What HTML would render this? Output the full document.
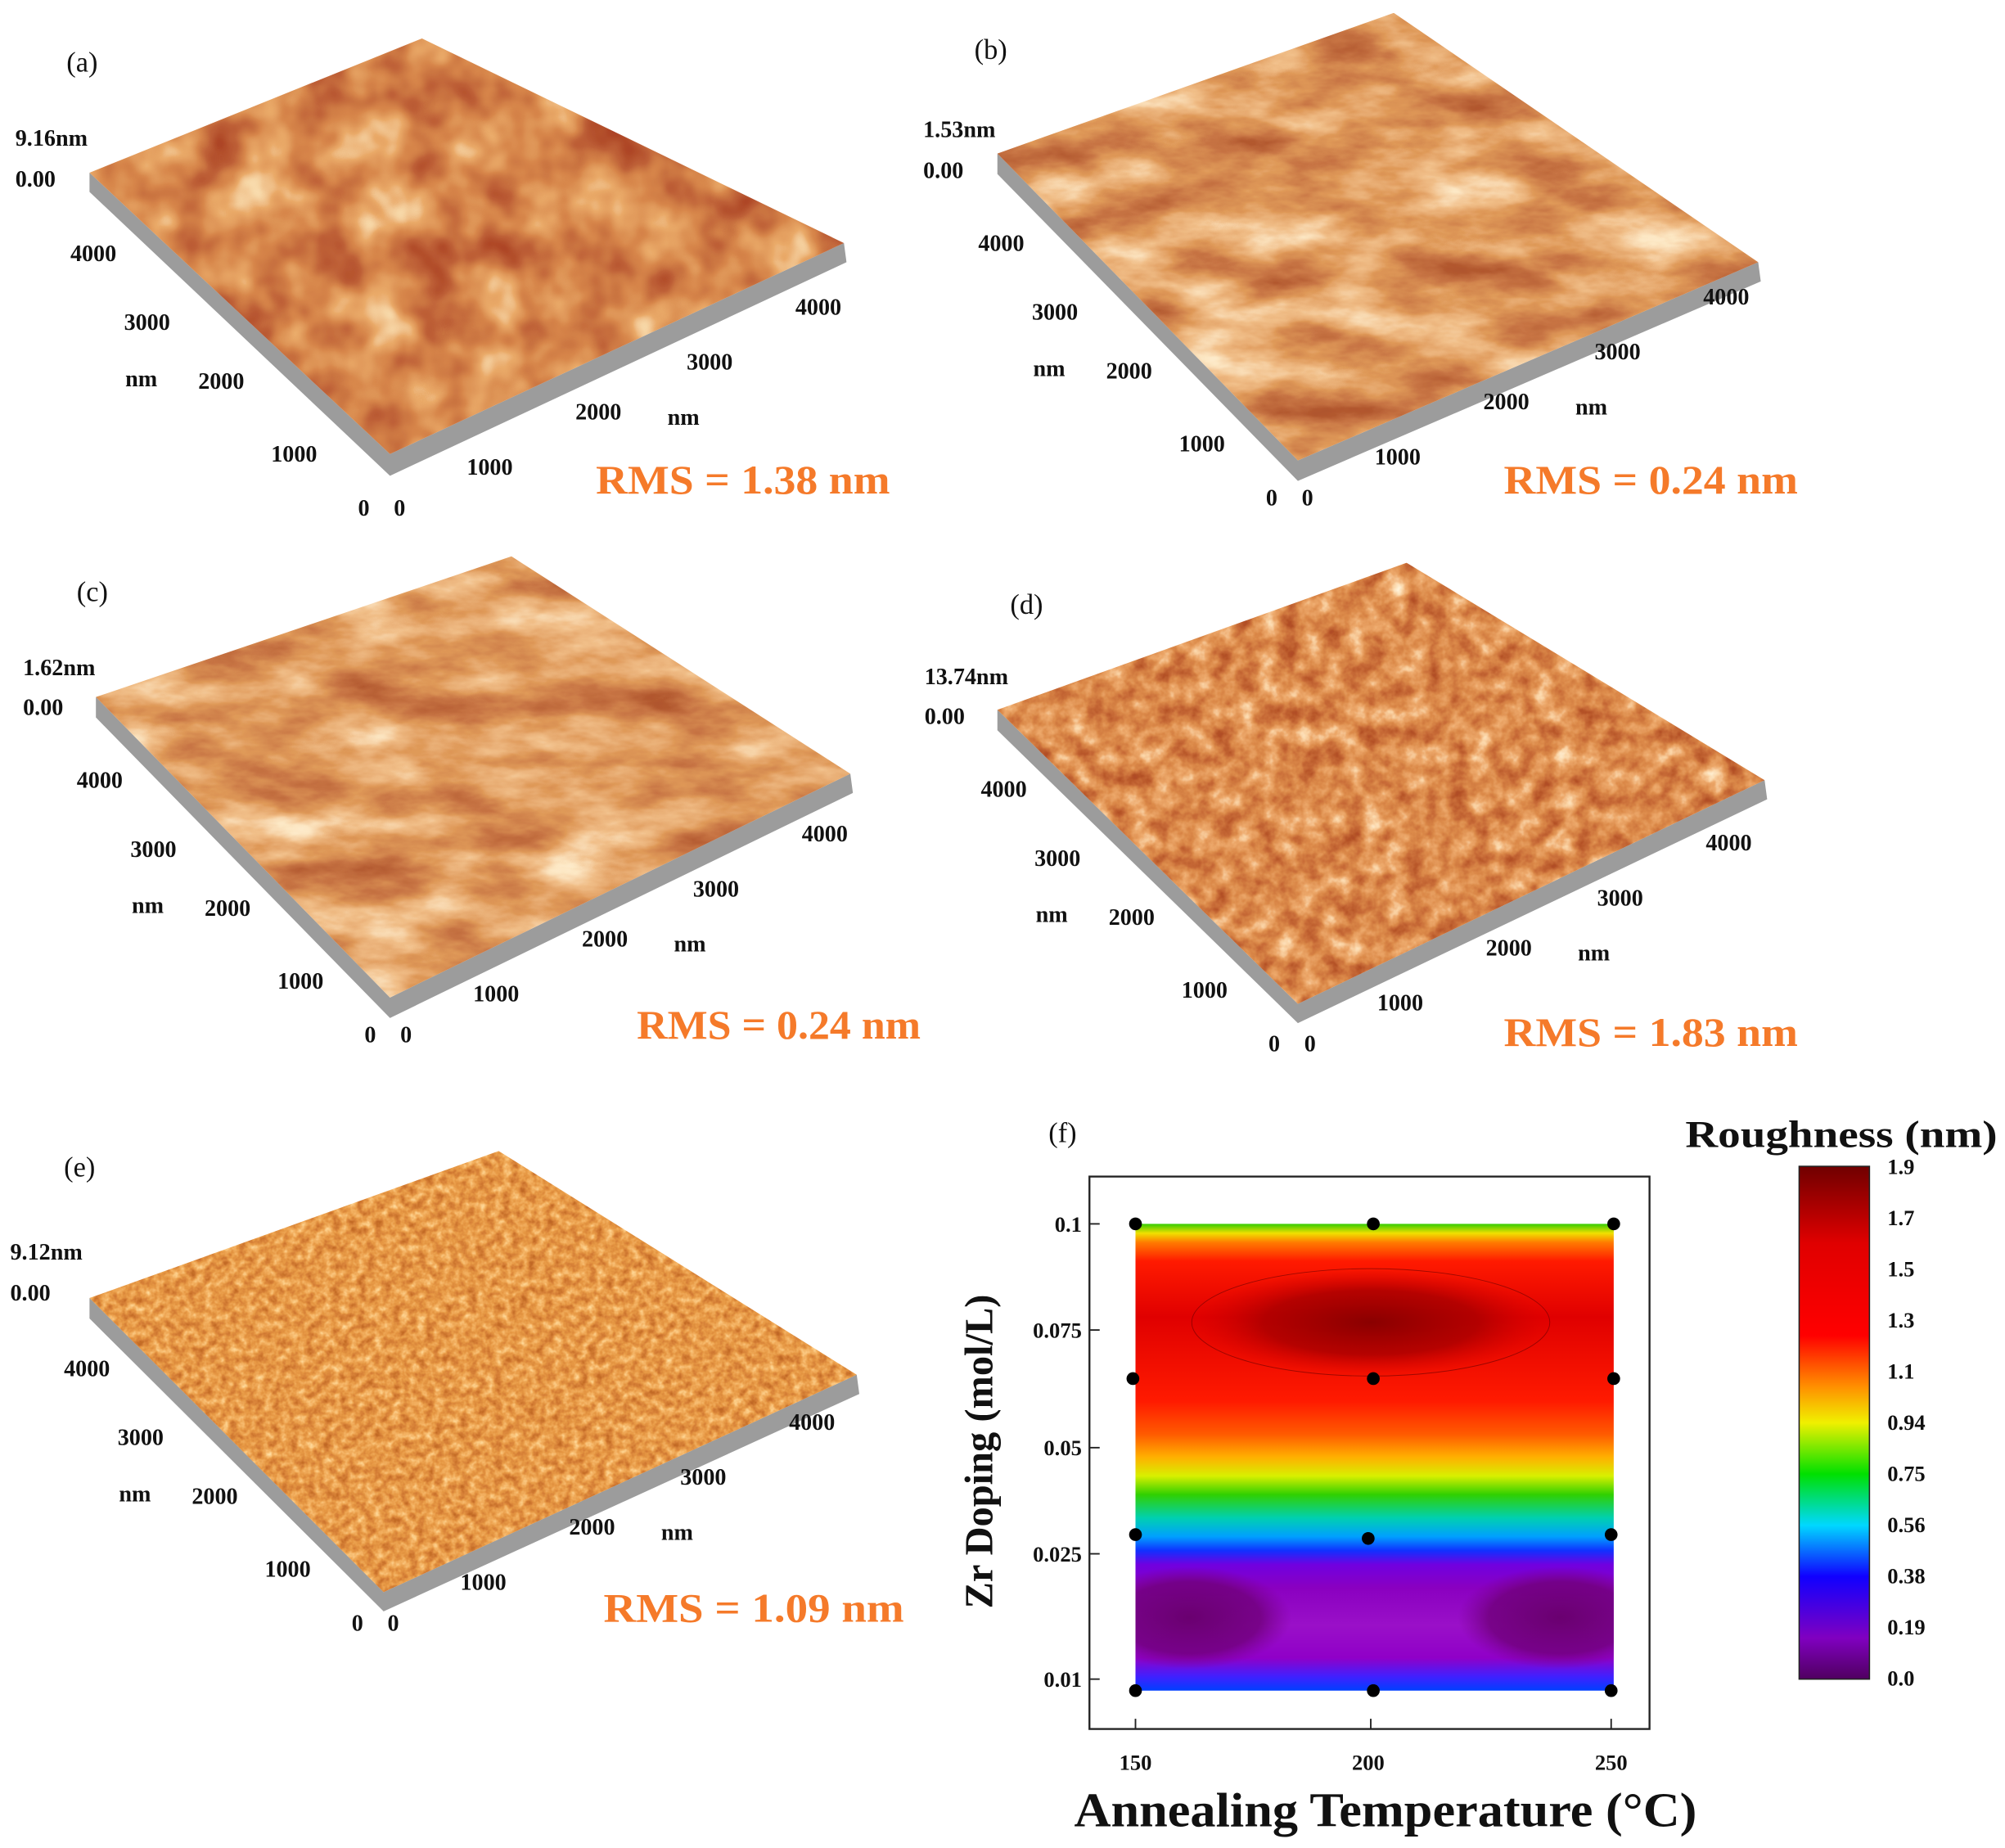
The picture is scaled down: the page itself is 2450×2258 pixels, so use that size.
<!DOCTYPE html>
<html><head><meta charset="utf-8"><style>html,body{margin:0;padding:0;background:#fff}svg{display:block}</style></head>
<body>
<svg width="2450" height="2258" viewBox="0 0 1568 1445" xmlns="http://www.w3.org/2000/svg" font-family="'Liberation Serif',serif" font-weight="bold">
<defs>
<filter id="fa" x="0" y="0" width="1" height="1"><feTurbulence type="fractalNoise" baseFrequency="0.022" numOctaves="3" seed="3"/><feColorMatrix type="matrix" values="1 0 0 0 0 1 0 0 0 0 1 0 0 0 0 0 0 0 0 1"/><feComponentTransfer><feFuncR type="table" tableValues="0.38 0.42 0.52 0.68 0.82 0.96 1"/><feFuncG type="table" tableValues="0.05 0.06 0.12 0.24 0.4 0.75 0.95"/><feFuncB type="table" tableValues="0.02 0.02 0.04 0.07 0.14 0.45 0.8"/><feFuncA type="table" tableValues="1 1"/></feComponentTransfer></filter>
<filter id="fb" x="0" y="0" width="1" height="1"><feTurbulence type="fractalNoise" baseFrequency="0.012 0.03" numOctaves="5" seed="7"/><feColorMatrix type="matrix" values="1 0 0 0 0 1 0 0 0 0 1 0 0 0 0 0 0 0 0 1"/><feComponentTransfer><feFuncR type="table" tableValues="0.4 0.45 0.58 0.74 0.88 0.98 1"/><feFuncG type="table" tableValues="0.08 0.1 0.18 0.32 0.52 0.8 0.92"/><feFuncB type="table" tableValues="0.03 0.03 0.06 0.1 0.25 0.55 0.75"/><feFuncA type="table" tableValues="1 1"/></feComponentTransfer></filter>
<filter id="fd" x="0" y="0" width="1" height="1"><feTurbulence type="fractalNoise" baseFrequency="0.06" numOctaves="4" seed="11"/><feColorMatrix type="matrix" values="1 0 0 0 0 1 0 0 0 0 1 0 0 0 0 0 0 0 0 1"/><feComponentTransfer><feFuncR type="table" tableValues="0.4 0.45 0.58 0.72 0.85 0.97 1"/><feFuncG type="table" tableValues="0.06 0.08 0.15 0.26 0.4 0.68 0.9"/><feFuncB type="table" tableValues="0.02 0.02 0.04 0.07 0.15 0.4 0.7"/><feFuncA type="table" tableValues="1 1"/></feComponentTransfer></filter>
<filter id="fe" x="0" y="0" width="1" height="1"><feTurbulence type="fractalNoise" baseFrequency="0.15" numOctaves="3" seed="5"/><feColorMatrix type="matrix" values="1 0 0 0 0 1 0 0 0 0 1 0 0 0 0 0 0 0 0 1"/><feComponentTransfer><feFuncR type="table" tableValues="0.5 0.55 0.68 0.8 0.9 0.98 1"/><feFuncG type="table" tableValues="0.12 0.15 0.22 0.32 0.44 0.62 0.8"/><feFuncB type="table" tableValues="0.02 0.02 0.04 0.06 0.12 0.25 0.45"/><feFuncA type="table" tableValues="1 1"/></feComponentTransfer></filter>
<clipPath id="ca"><polygon points="70,135 330,30 660,190 305,355"/></clipPath>
<clipPath id="cb"><polygon points="780,120 1090,10 1375,205 1015,360"/></clipPath>
<clipPath id="cc"><polygon points="75,545 400,435 665,605 305,780"/></clipPath>
<clipPath id="cd"><polygon points="780,555 1100,440 1380,610 1015,785"/></clipPath>
<clipPath id="ce"><polygon points="70,1015 390,900 670,1075 300,1245"/></clipPath>
<clipPath id="cf"><rect x="888" y="957" width="374" height="365"/></clipPath>
<linearGradient id="cont" x1="0" y1="957" x2="0" y2="1322" gradientUnits="userSpaceOnUse">
<stop offset="0" stop-color="#33cc00"/><stop offset="0.02" stop-color="#f0e000"/><stop offset="0.04" stop-color="#ff7a00"/><stop offset="0.08" stop-color="#ff1a00"/><stop offset="0.2" stop-color="#e00000"/><stop offset="0.38" stop-color="#ff1a00"/><stop offset="0.45" stop-color="#ff5a00"/><stop offset="0.5" stop-color="#ffb000"/><stop offset="0.54" stop-color="#d8f000"/><stop offset="0.58" stop-color="#30d000"/><stop offset="0.63" stop-color="#00d0b0"/><stop offset="0.67" stop-color="#00a0ff"/><stop offset="0.7" stop-color="#1030ff"/><stop offset="0.73" stop-color="#7000e0"/><stop offset="0.78" stop-color="#8a00c0"/><stop offset="0.86" stop-color="#9a10c8"/><stop offset="0.93" stop-color="#9000c8"/><stop offset="0.97" stop-color="#4020ff"/><stop offset="1" stop-color="#0040ff"/></linearGradient>
<radialGradient id="dr" cx="0.5" cy="0.5" r="0.5"><stop offset="0" stop-color="#8a0000"/><stop offset="0.6" stop-color="#a80000" stop-opacity="0.8"/><stop offset="1" stop-color="#d00000" stop-opacity="0"/></radialGradient>
<radialGradient id="dp" cx="0.5" cy="0.5" r="0.5"><stop offset="0" stop-color="#6a0070"/><stop offset="0.7" stop-color="#70007a" stop-opacity="0.8"/><stop offset="1" stop-color="#7a0090" stop-opacity="0"/></radialGradient>
<linearGradient id="cbar" x1="0" y1="1" x2="0" y2="0"><stop offset="0" stop-color="#500060"/><stop offset="0.08" stop-color="#8000c0"/><stop offset="0.2" stop-color="#1000ff"/><stop offset="0.3" stop-color="#00d8ff"/><stop offset="0.4" stop-color="#00e000"/><stop offset="0.5" stop-color="#f0f000"/><stop offset="0.57" stop-color="#ff9000"/><stop offset="0.67" stop-color="#ff0000"/><stop offset="0.85" stop-color="#e00000"/><stop offset="1" stop-color="#700000"/></linearGradient>
</defs>

<g fill="#9c9c9c">
<polygon points="70,135 305,355 660,190 662,205 305,372 70,150"/>
<polygon points="780,120 1015,360 1375,205 1377,220 1015,376 780,136"/>
<polygon points="75,545 305,780 665,605 667,620 305,796 75,561"/>
<polygon points="780,555 1015,785 1380,610 1382,625 1015,800 780,571"/>
<polygon points="70,1015 300,1245 670,1075 672,1090 300,1260 70,1031"/>
</g>
<rect x="60" y="20" width="610" height="340" filter="url(#fa)" clip-path="url(#ca)"/>
<rect x="770" y="0" width="615" height="370" filter="url(#fb)" clip-path="url(#cb)"/>
<rect x="65" y="425" width="610" height="365" filter="url(#fb)" clip-path="url(#cc)"/>
<rect x="770" y="430" width="620" height="365" filter="url(#fd)" clip-path="url(#cd)"/>
<rect x="60" y="890" width="620" height="365" filter="url(#fe)" clip-path="url(#ce)"/>

<g font-size="18" fill="#111">
<g id="la">
<text x="55" y="204">4000</text><text x="97" y="258">3000</text><text x="98" y="302">nm</text><text x="155" y="304">2000</text><text x="212" y="361">1000</text><text x="280" y="403">0</text><text x="308" y="403">0</text><text x="365" y="371">1000</text><text x="450" y="328">2000</text><text x="522" y="332">nm</text><text x="537" y="289">3000</text><text x="622" y="246">4000</text>
</g>
<use href="#la" transform="translate(710,-8)"/>
<use href="#la" transform="translate(5,412)"/>
<use href="#la" transform="translate(712,419)"/>
<use href="#la" transform="translate(-5,872)"/>
<text x="12" y="114">9.16nm</text><text x="12" y="146">0.00</text>
<text x="722" y="107">1.53nm</text><text x="722" y="139">0.00</text>
<text x="18" y="528">1.62nm</text><text x="18" y="559">0.00</text>
<text x="723" y="535">13.74nm</text><text x="723" y="566">0.00</text>
<text x="8" y="985">9.12nm</text><text x="8" y="1017">0.00</text>
</g>
<g font-size="22" font-weight="normal" fill="#111">
<text x="52" y="56">(a)</text><text x="762" y="46">(b)</text><text x="60" y="470">(c)</text><text x="790" y="480">(d)</text><text x="50" y="920">(e)</text><text x="820" y="893">(f)</text>
</g>
<g font-size="32" fill="#f57a2a">
<text x="466" y="386" textLength="230" lengthAdjust="spacingAndGlyphs">RMS = 1.38 nm</text><text x="1176" y="386" textLength="230" lengthAdjust="spacingAndGlyphs">RMS = 0.24 nm</text><text x="498" y="812" textLength="222" lengthAdjust="spacingAndGlyphs">RMS = 0.24 nm</text><text x="1176" y="818" textLength="230" lengthAdjust="spacingAndGlyphs">RMS = 1.83 nm</text><text x="472" y="1268" textLength="235" lengthAdjust="spacingAndGlyphs">RMS = 1.09 nm</text>
</g>

<rect x="888" y="957" width="374" height="365" fill="url(#cont)"/>
<g clip-path="url(#cf)">
<ellipse cx="1072" cy="1034" rx="140" ry="42" fill="url(#dr)"/>
<ellipse cx="1072" cy="1034" rx="140" ry="42" fill="none" stroke="#600" stroke-width="0.6" opacity="0.6"/>
<ellipse cx="930" cy="1265" rx="80" ry="40" fill="url(#dp)"/>
<ellipse cx="1220" cy="1265" rx="80" ry="40" fill="url(#dp)"/>
</g>
<rect x="852" y="920" width="438" height="432" fill="none" stroke="#222" stroke-width="1.5"/>
<g stroke="#222" stroke-width="1.2">
<line x1="852" y1="957" x2="860" y2="957"/><line x1="852" y1="1040" x2="860" y2="1040"/><line x1="852" y1="1132" x2="860" y2="1132"/><line x1="852" y1="1215" x2="860" y2="1215"/><line x1="852" y1="1313" x2="860" y2="1313"/>
<line x1="888" y1="1352" x2="888" y2="1344"/><line x1="1072" y1="1352" x2="1072" y2="1344"/><line x1="1260" y1="1352" x2="1260" y2="1344"/>
</g>
<g font-size="17" fill="#111" text-anchor="end">
<text x="846" y="963">0.1</text><text x="846" y="1046">0.075</text><text x="846" y="1138">0.05</text><text x="846" y="1221">0.025</text><text x="846" y="1319">0.01</text>
</g>
<g font-size="17" fill="#111" text-anchor="middle">
<text x="888" y="1384">150</text><text x="1070" y="1384">200</text><text x="1260" y="1384">250</text>
</g>
<g fill="#000">
<circle cx="888" cy="957" r="5"/><circle cx="1074" cy="957" r="5"/><circle cx="1262" cy="957" r="5"/>
<circle cx="886" cy="1078" r="5"/><circle cx="1074" cy="1078" r="5"/><circle cx="1262" cy="1078" r="5"/>
<circle cx="888" cy="1200" r="5"/><circle cx="1070" cy="1203" r="5"/><circle cx="1260" cy="1200" r="5"/>
<circle cx="888" cy="1322" r="5"/><circle cx="1074" cy="1322" r="5"/><circle cx="1260" cy="1322" r="5"/>
</g>
<text x="840" y="1428" font-size="38" fill="#111" textLength="487" lengthAdjust="spacingAndGlyphs">Annealing Temperature (°C)</text>
<text transform="translate(776,1135) rotate(-90)" font-size="31" text-anchor="middle" fill="#111">Zr Doping (mol/L)</text>
<text x="1318" y="897" font-size="30" fill="#111" textLength="244" lengthAdjust="spacingAndGlyphs">Roughness (nm)</text>
<rect x="1407" y="912" width="55" height="401" fill="url(#cbar)" stroke="#222" stroke-width="1"/>
<g font-size="17" fill="#111">
<text x="1476" y="918">1.9</text><text x="1476" y="958">1.7</text><text x="1476" y="998">1.5</text><text x="1476" y="1038">1.3</text><text x="1476" y="1078">1.1</text><text x="1476" y="1118">0.94</text><text x="1476" y="1158">0.75</text><text x="1476" y="1198">0.56</text><text x="1476" y="1238">0.38</text><text x="1476" y="1278">0.19</text><text x="1476" y="1318">0.0</text>
</g>
</svg>
</body></html>
